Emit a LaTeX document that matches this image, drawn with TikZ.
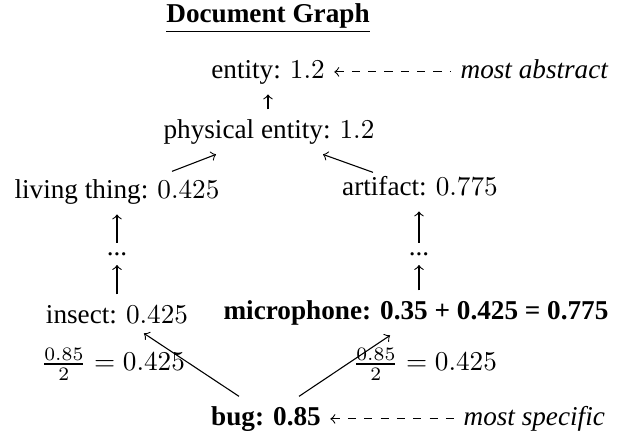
\documentclass[tikz,border=0pt]{standalone}
\usepackage{fontspec}
\setmainfont{Liberation Serif}
\usetikzlibrary{calc}

\tikzset{
  word/.style={anchor=base,text height=.7em,text depth=.25em},
  note/.style={word,anchor=base west,font=\itshape},
  up/.style={->},
  hint/.style={<-,dashed}
}

\begin{document}
\begin{tikzpicture}[x=0.3676pt,y=-0.3676pt]
  \useasboundingbox (0,0) rectangle (626,433);
  \node[anchor=base] (title) at (268,22) {\underline{\textbf{Document Graph}}};
  \foreach \n/\x/\y/\lab in {
    entity/268/78/{entity: $1.2$},
    phys/269/138/{physical entity: $1.2$},
    living/117/198/{living thing: $0.425$},
    artifact/420/195/{artifact: $0.775$},
    insect/117/323/{insect: $0.425$},
    mic/416/319/{\textbf{microphone: 0.35 + 0.425 = 0.775}},
    bug/266/425/{\textbf{bug: 0.85}}}
  {
    \node[word] (\n) at (\x,\y) {\lab};
  }
  \node[anchor=base] (ldots) at (117,255) {...};
  \node[anchor=base] (rdots) at (419,255) {...};
  \node[note] (abstract) at (451,78) {most abstract};
  \node[note] (specific) at (454,425) {most specific};
  \node (lfrac) at (113,364) {$\frac{0.85}{2} = 0.425$};
  \node (rfrac) at (425,364) {$\frac{0.85}{2} = 0.425$};

  % upward links
  \draw[up] (phys.north -| entity) -- (entity);
  \draw[up] ($(living.north)+(55,2)$) -- ($(phys.south)+(-53,0)$);
  \draw[up] ($(artifact.north)+(-47,6)$) -- ($(phys.south)+(54,0)$);
  \draw[up] (insect) -- (ldots);
  \draw[up] (ldots) -- (ldots |- living.south);
  \draw[up] (mic.north -| rdots) -- (rdots);
  \draw[up] (rdots) -- (rdots |- artifact.south);
  \draw[up] ($(bug.north)+(-27,0)$) -- ($(insect.south)+(27,-6)$);
  \draw[up] ($(bug.north)+(33,0)$) -- ($(mic.south)+(-26,0)$);

  % side notes
  \draw[hint] (entity) -- (abstract);
  \draw[hint] (bug) -- (specific);
\end{tikzpicture}
\end{document}
